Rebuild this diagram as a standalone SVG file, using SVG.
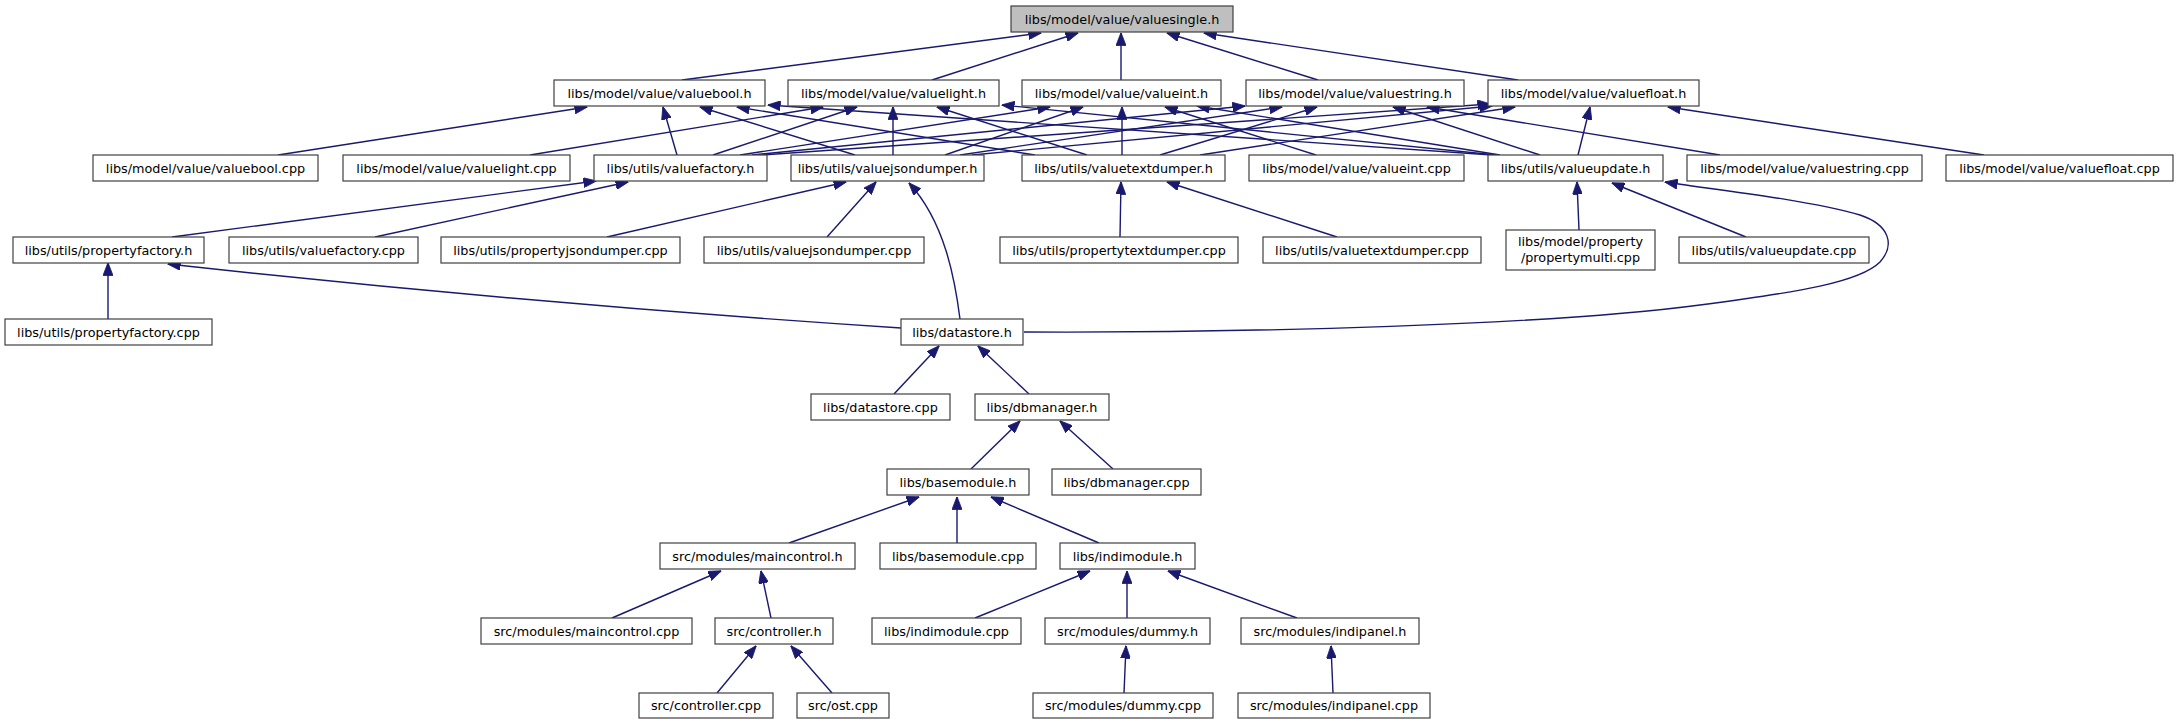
<svg xmlns="http://www.w3.org/2000/svg" width="2178" height="724" viewBox="0 0 2178 724">
<style>
.n rect{fill:#fff;stroke:#404040;stroke-width:1.2}
.n.root rect{fill:#bfbfbf}
.n text{font-family:"DejaVu Sans","Liberation Sans",sans-serif;font-size:12.8px;text-anchor:middle;fill:#000}
#edges path{fill:none;stroke:#191970;stroke-width:1.4;marker-end:url(#ah)}
</style>
<defs>
<marker id="ah" markerUnits="userSpaceOnUse" markerWidth="13" markerHeight="10" viewBox="0 0 13 10" refX="12.5" refY="5" orient="auto">
<path d="M0,0 L13,5 L0,10 z" fill="#191970" stroke="#191970" stroke-width="0.8"/>
</marker>
</defs>
<rect width="2178" height="724" fill="#fff"/>
<g id="edges">
<path d="M682,80 L1041,33"/>
<path d="M932,80 L1078,33"/>
<path d="M1121,80 L1121,33"/>
<path d="M1318,80 L1167,33"/>
<path d="M1518,80 L1204,33"/>
<path d="M278,155 L587,107"/>
<path d="M677,155 L663,107"/>
<path d="M855,155 L700,107"/>
<path d="M1035,155 L737,107"/>
<path d="M1492,155 L768,105"/>
<path d="M530,155 L823,107"/>
<path d="M713,155 L857,107"/>
<path d="M893,155 L893,107"/>
<path d="M1087,155 L937,107"/>
<path d="M1496,155 L1002,105"/>
<path d="M740,155 L1050,107"/>
<path d="M945,155 L1083,107"/>
<path d="M1122,155 L1122,107"/>
<path d="M1316,155 L1165,107"/>
<path d="M1500,155 L1197,106"/>
<path d="M752,155 L1245,106"/>
<path d="M960,155 L1282,107"/>
<path d="M1160,155 L1317,107"/>
<path d="M1540,155 L1393,107"/>
<path d="M1720,155 L1427,107"/>
<path d="M762,155 L1490,104"/>
<path d="M972,155 L1492,106"/>
<path d="M1200,155 L1515,107"/>
<path d="M1578,155 L1590,107"/>
<path d="M1984,155 L1668,107"/>
<path d="M172,237 L596,181"/>
<path d="M375,237 L628,182"/>
<path d="M607,237 L846,182"/>
<path d="M827,237 L876,182"/>
<path d="M960,319 C955,280 945,222 909,183"/>
<path d="M1120,237 L1121,182"/>
<path d="M1337,237 L1167,182"/>
<path d="M1579,230 L1577,182"/>
<path d="M1746,237 L1612,183"/>
<path d="M1024,332 C1250,333 1550,325 1700,305 C1800,292 1860,282 1880,262 C1895,245 1890,225 1860,215 C1800,198 1700,188 1665,182"/>
<path d="M108,319 L108,263"/>
<path d="M901,328 C700,315 450,295 168,264"/>
<path d="M894,394 L939,346"/>
<path d="M1029,394 L978,346"/>
<path d="M971,469 L1020,421"/>
<path d="M1113,469 L1060,421"/>
<path d="M789,543 L919,497"/>
<path d="M957,543 L957,497"/>
<path d="M1099,543 L991,497"/>
<path d="M612,618 L721,571"/>
<path d="M771,618 L761,571"/>
<path d="M717,693 L756,646"/>
<path d="M832,693 L791,646"/>
<path d="M975,618 L1090,571"/>
<path d="M1127,618 L1127,571"/>
<path d="M1297,618 L1168,571"/>
<path d="M1124,693 L1126,646"/>
<path d="M1333,693 L1331,646"/>
</g>
<g id="valuesingle_h" class="n root"><rect x="1011" y="6" width="222" height="26"/><text x="1122" y="23.5">libs/model/value/valuesingle.h</text></g>
<g id="valuebool_h" class="n"><rect x="554" y="80" width="211" height="26"/><text x="659.5" y="97.5">libs/model/value/valuebool.h</text></g>
<g id="valuelight_h" class="n"><rect x="788" y="80" width="211" height="26"/><text x="893.5" y="97.5">libs/model/value/valuelight.h</text></g>
<g id="valueint_h" class="n"><rect x="1022" y="80" width="199" height="26"/><text x="1121.5" y="97.5">libs/model/value/valueint.h</text></g>
<g id="valuestring_h" class="n"><rect x="1246" y="80" width="218" height="26"/><text x="1355" y="97.5">libs/model/value/valuestring.h</text></g>
<g id="valuefloat_h" class="n"><rect x="1488" y="80" width="211" height="26"/><text x="1593.5" y="97.5">libs/model/value/valuefloat.h</text></g>
<g id="valuebool_cpp" class="n"><rect x="93" y="155" width="225" height="26"/><text x="205.5" y="172.5">libs/model/value/valuebool.cpp</text></g>
<g id="valuelight_cpp" class="n"><rect x="343" y="155" width="227" height="26"/><text x="456.5" y="172.5">libs/model/value/valuelight.cpp</text></g>
<g id="valuefactory_h" class="n"><rect x="594" y="155" width="173" height="26"/><text x="680.5" y="172.5">libs/utils/valuefactory.h</text></g>
<g id="valuejsondumper_h" class="n"><rect x="791" y="155" width="193" height="26"/><text x="887.5" y="172.5">libs/utils/valuejsondumper.h</text></g>
<g id="valuetextdumper_h" class="n"><rect x="1022" y="155" width="203" height="26"/><text x="1123.5" y="172.5">libs/utils/valuetextdumper.h</text></g>
<g id="valueint_cpp" class="n"><rect x="1249" y="155" width="215" height="26"/><text x="1356.5" y="172.5">libs/model/value/valueint.cpp</text></g>
<g id="valueupdate_h" class="n"><rect x="1488" y="155" width="175" height="26"/><text x="1575.5" y="172.5">libs/utils/valueupdate.h</text></g>
<g id="valuestring_cpp" class="n"><rect x="1687" y="155" width="235" height="26"/><text x="1804.5" y="172.5">libs/model/value/valuestring.cpp</text></g>
<g id="valuefloat_cpp" class="n"><rect x="1946" y="155" width="227" height="26"/><text x="2059.5" y="172.5">libs/model/value/valuefloat.cpp</text></g>
<g id="propertyfactory_h" class="n"><rect x="13" y="237" width="191" height="26"/><text x="108.5" y="254.5">libs/utils/propertyfactory.h</text></g>
<g id="valuefactory_cpp" class="n"><rect x="229" y="237" width="189" height="26"/><text x="323.5" y="254.5">libs/utils/valuefactory.cpp</text></g>
<g id="propertyjsondumper_cpp" class="n"><rect x="441" y="237" width="239" height="26"/><text x="560.5" y="254.5">libs/utils/propertyjsondumper.cpp</text></g>
<g id="valuejsondumper_cpp" class="n"><rect x="704" y="237" width="220" height="26"/><text x="814" y="254.5">libs/utils/valuejsondumper.cpp</text></g>
<g id="propertytextdumper_cpp" class="n"><rect x="1000" y="237" width="238" height="26"/><text x="1119" y="254.5">libs/utils/propertytextdumper.cpp</text></g>
<g id="valuetextdumper_cpp" class="n"><rect x="1263" y="237" width="218" height="26"/><text x="1372" y="254.5">libs/utils/valuetextdumper.cpp</text></g>
<g id="propertymulti_cpp" class="n"><rect x="1506" y="230" width="149" height="40"/><text x="1580.5" y="246">libs/model/property</text><text x="1580.5" y="262">/propertymulti.cpp</text></g>
<g id="valueupdate_cpp" class="n"><rect x="1679" y="237" width="190" height="26"/><text x="1774" y="254.5">libs/utils/valueupdate.cpp</text></g>
<g id="propertyfactory_cpp" class="n"><rect x="5" y="319" width="207" height="26"/><text x="108.5" y="336.5">libs/utils/propertyfactory.cpp</text></g>
<g id="datastore_h" class="n"><rect x="901" y="319" width="122" height="26"/><text x="962" y="336.5">libs/datastore.h</text></g>
<g id="datastore_cpp" class="n"><rect x="811" y="394" width="139" height="26"/><text x="880.5" y="411.5">libs/datastore.cpp</text></g>
<g id="dbmanager_h" class="n"><rect x="975" y="394" width="134" height="26"/><text x="1042" y="411.5">libs/dbmanager.h</text></g>
<g id="basemodule_h" class="n"><rect x="887" y="469" width="142" height="26"/><text x="958" y="486.5">libs/basemodule.h</text></g>
<g id="dbmanager_cpp" class="n"><rect x="1052" y="469" width="149" height="26"/><text x="1126.5" y="486.5">libs/dbmanager.cpp</text></g>
<g id="maincontrol_h" class="n"><rect x="660" y="543" width="195" height="26"/><text x="757.5" y="560.5">src/modules/maincontrol.h</text></g>
<g id="basemodule_cpp" class="n"><rect x="880" y="543" width="156" height="26"/><text x="958" y="560.5">libs/basemodule.cpp</text></g>
<g id="indimodule_h" class="n"><rect x="1060" y="543" width="135" height="26"/><text x="1127.5" y="560.5">libs/indimodule.h</text></g>
<g id="maincontrol_cpp" class="n"><rect x="481" y="618" width="211" height="26"/><text x="586.5" y="635.5">src/modules/maincontrol.cpp</text></g>
<g id="controller_h" class="n"><rect x="715" y="618" width="118" height="26"/><text x="774" y="635.5">src/controller.h</text></g>
<g id="indimodule_cpp" class="n"><rect x="872" y="618" width="149" height="26"/><text x="946.5" y="635.5">libs/indimodule.cpp</text></g>
<g id="dummy_h" class="n"><rect x="1045" y="618" width="165" height="26"/><text x="1127.5" y="635.5">src/modules/dummy.h</text></g>
<g id="indipanel_h" class="n"><rect x="1241" y="618" width="178" height="26"/><text x="1330" y="635.5">src/modules/indipanel.h</text></g>
<g id="controller_cpp" class="n"><rect x="639" y="693" width="134" height="25"/><text x="706" y="710">src/controller.cpp</text></g>
<g id="ost_cpp" class="n"><rect x="797" y="693" width="92" height="25"/><text x="843" y="710">src/ost.cpp</text></g>
<g id="dummy_cpp" class="n"><rect x="1033" y="693" width="180" height="25"/><text x="1123" y="710">src/modules/dummy.cpp</text></g>
<g id="indipanel_cpp" class="n"><rect x="1238" y="693" width="192" height="25"/><text x="1334" y="710">src/modules/indipanel.cpp</text></g>
</svg>
